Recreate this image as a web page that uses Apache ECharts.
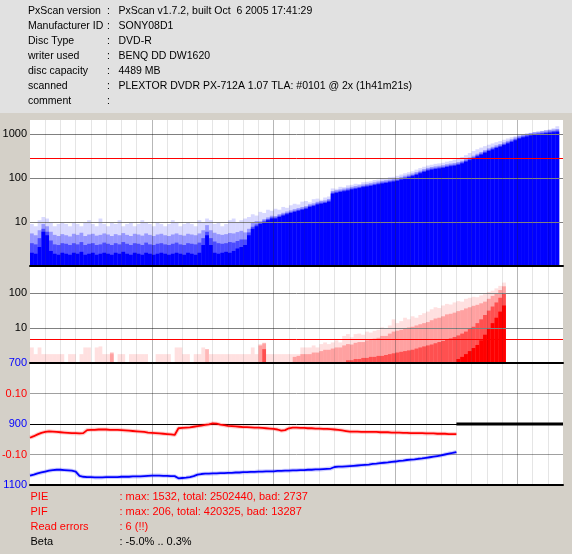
<!DOCTYPE html>
<html>
<head>
<meta charset="utf-8">
<script src="https://cdn.jsdelivr.net/npm/echarts@6/dist/echarts.min.js"></script>
<style>
html,body{margin:0;padding:0;background:#d4d0c8;}
#chart{width:572px;height:554px;}
</style>
</head>
<body>
<div id="chart"></div>
<script>
// ---------------- header / footer texts ----------------
const headerLabels = ["PxScan version", "Manufacturer ID", "Disc Type", "writer used", "disc capacity", "scanned", "comment"];
const headerValues = ["PxScan v1.7.2, built Oct  6 2005 17:41:29", "SONY08D1", "DVD-R", "BENQ DD DW1620", "4489 MB", "PLEXTOR DVDR PX-712A 1.07 TLA: #0101 @ 2x (1h41m21s)", ""];
const footerLabels = ["PIE", "PIF", "Read errors", "Beta"];
const footerValues = [": max: 1532, total: 2502440, bad: 2737", ": max: 206, total: 420325, bad: 13287", ": 6 (!!)", ": -5.0% .. 0.3%"];
const footerColors = ["#ff0000", "#ff0000", "#ff0000", "#000000"];

// ---------------- axes ----------------
const discUnits = 35;          // x range (units of 128 MB)
const sampleStep = 0.25;       // spacing of samples in x units
const pieTickLabels = [10, 100, 1000];
const pifTickLabels = [10, 100];
const jitterTickLabels = [700, 900, 1100];
const betaTickLabels = [-0.1, 0.1];
const pieThreshold = 280;
const pifThreshold = 4.8;

// ---------------- PIE (top panel), 4 density layers ----------------
const pieFaint = [9,8,11,13,12,10,8,9,10,9, 8,10,9,8,10,11,9,8,12,9, 8,10,9,11,8,9,10,8,9,11, 10,9,8,10,9,8,9,11,10,8, 9,10,9,8,11,10,12,11,9,10, 8,9,11,12,10,11,
  12,13,15,14,17,16,19,18,20,19, 22,21,24,26,25,29,30,28,33,34, 32,36,38,58,57,63,62,68,70,74, 73,80,82,84,90,92,97,98,104,106, 112,120,128,135,142,155,168,180,192,200, 210,215,222,235,245,260,275,300,330,370, 410,450,490,530,570,610,650,690,740,790, 840,890,940,990,1030,1070,1110,1140,1180,1230, 1290,1350,1500];
const pieLight = [5.5,5,6.5,9,8,6,5.1,4.8,5.3,5, 4.7,5.4,5.1,5.7,4.8,5.2,5.4,4.9,5.1,5.5, 5.2,4.8,5.3,5,5.6,5.1,4.8,5.4,5.2,4.9, 5.5,5.1,4.8,5.2,5.4,5,4.8,5.2,5.5,5.1, 4.9,5.4,5.2,5,5.5,6.5,8.5,6.5,5.7,5.3, 5.1,5.3,5.6,5.5,5.9,6.3,
  5.8,7,9.5,10.5,10.4,11.6,12.7,13.9,13.7,15, 16.2,17.3,18.4,19.6,20.7,21.9,23,25.3,26.5,28.8, 30,31,33.4,50.6,53,55,57.5,60,63,65.5, 68,71.3,73.6,76,79.4,83,86,88.6,92,95.5, 99,106,113,120,126.5,136,147,159,170,178, 184,190,195.5,205,213,218.5,230,247,270,293, 322,356,391,431,471,512,552,592,644,701, 759,828,908,966,1012,1058,1092,1127,1161,1196, 1230,1265,1300];
const pieMid = [3.3,3.1,4.3,7,6,3.8,3.1,3,3.3,3.2, 3,3.3,3.1,3.5,3,3.2,3.3,3,3.1,3.4, 3.2,3,3.3,3.1,3.5,3.2,3,3.3,3.2,3, 3.4,3.1,3,3.2,3.3,3.1,3,3.2,3.4,3.1, 3,3.3,3.2,3.1,3.4,4.3,6,4.3,3.6,3.3, 3.2,3.3,3.5,3.4,3.7,4,
  4,5.8,7.8,8.8,9.6,10.7,11.7,12.8,12.7,13.9, 14.9,16,17,18,19,20,21.3,23.4,24.4,26.5, 27.6,28.7,30.8,46.6,48.8,51,53,55,58,60, 62.5,65.7,68,70,73,76,79.5,81.6,85,88, 91,97.5,104,110,117,125,136,146,157,164, 170,175,180,189,196,201,212,228,249,270, 297,329,360,398,435,472,509,546,594,647, 700,763,837,890,933,975,1007,1039,1071,1102, 1134,1166,1198];
const pieSolid = [2,1.9,2.7,6,5,2.2,1.9,1.8,2,1.9, 1.8,2,1.9,2.1,1.8,1.9,2,1.8,1.9,2, 1.9,1.8,2,1.9,2.1,1.9,1.8,2,1.9,1.8, 2,1.9,1.8,1.9,2,1.9,1.8,1.9,2,1.9, 1.8,2,1.9,1.8,2,3,5,3,2,1.9, 2,2.1,2,2.2,2.5,2.7,
  3,5,7,8,9,10,11,12,12,13, 14,15,16,17,18,19,20,22,23,25, 26,27,29,44,46,48,50,52,55,57, 59,62,64,66,69,72,75,77,80,83, 86,92,98,104,110,118,128,138,148,155, 160,165,170,178,185,190,200,215,235,255, 280,310,340,375,410,445,480,515,560,610, 660,720,790,840,880,920,950,980,1010,1040, 1070,1100,1130];

// ---------------- PIF (middle panel), 4 density layers ----------------
const pifFaint = [2.8,1.8,2.8,1.8,1.8,1.8,1.8,1.8,1.8,1, 1.8,1.8,1,1.8,2.8,2.8,1,2.8,3,1.8, 1.8,1.8,1,1.8,1.8,1,1.8,1.8,1.8,1.8, 1.8,1,1,1.8,1.8,1.8,1.8,1,2.8,2.8, 1.8,1.8,1,1.8,1.8,2.8,1,1.8,1.8,1.8, 1.8,1.8,1.8,1.8,1.8,1.8,1.8,1.8,2.8,1.8, 3.5,3.5,1.8,1.8,1.8,1.8,1.8,1.8,1.8,
  1.8,1.8,2.8,2.8,2.8,3.2,2.8,3.5,3.9,3.5, 3.9,4.5,3.9,6,6.8,5.5,6.8,7,6.5,8, 7.5,8.4,9,10.6,9.5,12,18,14,16,20, 18,22,20,24,27,30,35,40,38,45, 50,48,55,60,58,70,75,80,78,88, 95,110,120,140,165,205];
const pifLight = [1,1,1,1,1,1,1,1,1,1, 1,1,1,1,1,1,1,1,1,1, 1,2,1,1,1,1,1,1,1,1, 1,1,1,1,1,1,1,1,1,1, 1,1,1,1,1,1,2.5,1,1,1, 1,1,1,1,1,1,1,1,1,1, 3.2,3.8,1,1,1,1,1,1,1,
  1.5,1.6,1.8,1.8,1.8,2,2,2.2,2.4,2.4, 2.6,2.8,2.8,3.2,3.5,3.4,3.8,4,4,4.5, 4.6,5,5.3,6,6,7,8,8.5,9,10, 10.5,11,12,13,14,15,17,19,20,22, 25,26,28,31,33,37,40,44,47,52, 58,70,85,100,125,160];
const pifMid = [1,1,1,1,1,1,1,1,1,1, 1,1,1,1,1,1,1,1,1,1, 1,1,1,1,1,1,1,1,1,1, 1,1,1,1,1,1,1,1,1,1, 1,1,1,1,1,1,1,1,1,1, 1,1,1,1,1,1,1,1,1,1, 1,2.5,1,1,1,1,1,1,1,
  1,1,1,1,1,1,1,1,1,1, 1,1,1,1,1.2,1.2,1.3,1.3,1.4,1.4, 1.5,1.5,1.6,1.6,1.7,1.8,
  1.9,2,2.1,2.2,2.3,2.4,2.6,2.8,3,3.2, 3.4,3.7,4,4.3,4.7,5.1,5.6,6.2,7,8, 9.5,11,14,18,24,32,42,55,75,100];
const pifSolid = [1,1,1,1,1,1,1,1,1,1, 1,1,1,1,1,1,1,1,1,1, 1,1,1,1,1,1,1,1,1,1, 1,1,1,1,1,1,1,1,1,1, 1,1,1,1,1,1,1,1,1,1, 1,1,1,1,1,1,1,1,1,1, 1,1,1,1,1,1,1,1,1,1, 1,1,1,1,1,1,1,1,1,1, 1,1,1,1,1,1,1,1,1,1, 1,1,1,1,1,1,1,1,1,1,
  1,1,1,1,1,1,1,1,1,1, 1,1,1.3,1.5,1.8,2.2,2.7,3.3,4.5,6.5, 10,14,20,30,45];

// ---------------- Beta (red, right scale) and jitter (blue) ----------------
const betaValues = [-0.045,-0.040,-0.034,-0.029,-0.026,-0.024,-0.025,-0.026,-0.027,-0.028,
  -0.029,-0.030,-0.030,-0.031,-0.030,-0.020,-0.019,-0.019,-0.018,-0.018,
  -0.018,-0.019,-0.019,-0.019,-0.020,-0.021,-0.022,-0.023,-0.024,-0.025,
  -0.026,-0.028,-0.029,-0.030,-0.031,-0.032,-0.033,-0.034,-0.036,-0.014,
  -0.013,-0.012,-0.011,-0.009,-0.007,-0.005,-0.003,-0.001,0.002,0.001,
  -0.002,-0.004,-0.006,-0.007,-0.008,-0.009,-0.010,-0.010,-0.011,-0.012,
  -0.012,-0.013,-0.014,-0.015,-0.016,-0.018,-0.022,-0.020,-0.014,-0.012,
  -0.012,-0.013,-0.013,-0.014,-0.014,-0.015,-0.015,-0.016,-0.016,-0.017,
  -0.018,-0.019,-0.021,-0.023,-0.025,-0.025,-0.025,-0.026,-0.026,-0.026,
  -0.026,-0.026,-0.027,-0.027,-0.027,-0.028,-0.028,-0.028,-0.029,-0.029,
  -0.030,-0.030,-0.030,-0.030,-0.031,-0.031,-0.031,-0.032,-0.032,-0.032,
  -0.033,-0.033,-0.033];
const jitterValues = [1069,1066,1062,1059,1056,1053,1051,1050,1050,1051,
  1052,1053,1056,1070,1073,1074,1074,1075,1075,1075,
  1074,1074,1074,1074,1073,1073,1073,1072,1072,1072,
  1071,1070,1069,1069,1069,1070,1070,1071,1071,1078,
  1077,1076,1074,1071,1066,1064,1063,1063,1062,1062,
  1061,1061,1060,1060,1059,1059,1058,1058,1057,1057,
  1056,1056,1055,1055,1055,1054,1054,1053,1053,1052,
  1052,1051,1051,1050,1050,1049,1049,1048,1047,1046,
  1041,1040,1040,1039,1038,1037,1036,1035,1034,1033,
  1031,1030,1028,1027,1026,1024,1023,1021,1020,1018,
  1017,1016,1014,1013,1011,1009,1007,1005,1003,1000,
  997,995,992];
const betaTailPositions = [28, 35];
const betaTailValues = [0, 0];

// ---------------- helpers ----------------
const barPairs = arr => arr.map((v, i) => [i * sampleStep + sampleStep / 2, v]);
const linePairs = arr => arr.map((v, i) => [i * sampleStep, v]);
const FONT = '"Liberation Sans", Arial, sans-serif';

function xPair(grid) {
  return [
    {gridIndex: grid, type: 'value', min: 0, max: discUnits, interval: 1, z: 3,
     axisLabel: {show: false}, axisTick: {show: false},
     axisLine: {show: true, onZero: false, lineStyle: {color: '#000', width: 2}},
     splitLine: {show: true, showMinLine: false, showMaxLine: false, lineStyle: {color: 'rgba(0,0,0,0.10)', width: 1}}},
    {gridIndex: grid, type: 'value', min: 0, max: discUnits, interval: 8, z: 3, position: 'bottom',
     axisLabel: {show: false}, axisTick: {show: false}, axisLine: {show: false},
     splitLine: {show: true, showMinLine: false, showMaxLine: false, lineStyle: {color: 'rgba(0,0,0,0.20)', width: 1}}}
  ];
}

function barSeries(name, arr, xi, yi, color, mark) {
  const s = {
    name: name, type: 'bar', xAxisIndex: xi, yAxisIndex: yi,
    data: barPairs(arr), barGap: '-100%', barCategoryGap: '0%',
    itemStyle: {color: color}, silent: true, animation: false
  };
  if (mark) {
    s.markLine = {silent: true, symbol: ['none', 'none'], animation: false,
      label: {show: false}, lineStyle: {color: '#ff0000', width: 1, type: 'solid'},
      data: [{yAxis: mark}]};
  }
  return s;
}

const graphics = [];
graphics.push({type: 'rect', shape: {x: 0, y: 0, width: 572, height: 113}, style: {fill: '#e1e1e1'}, z: -5});
graphics.push({type: 'rect', shape: {x: 30, y: 120, width: 533, height: 365}, style: {fill: '#ffffff'}, z: -5});
headerLabels.forEach((t, i) => {
  const y = 11.5 + i * 15;
  graphics.push({type: 'text', x: 28, y: y, z: 10, style: {text: t, fill: '#000', font: '10.5px ' + FONT, verticalAlign: 'middle'}});
  graphics.push({type: 'text', x: 107, y: y, z: 10, style: {text: ':', fill: '#000', font: '10.5px ' + FONT, verticalAlign: 'middle'}});
  graphics.push({type: 'text', x: 118.5, y: y, z: 10, style: {text: headerValues[i], fill: '#000', font: '10.5px ' + FONT, verticalAlign: 'middle'}});
});
footerLabels.forEach((t, i) => {
  const y = 497 + i * 15;
  graphics.push({type: 'text', x: 30.5, y: y, z: 10, style: {text: t, fill: footerColors[i], font: '11px ' + FONT, verticalAlign: 'middle'}});
  graphics.push({type: 'text', x: 119.5, y: y, z: 10, style: {text: footerValues[i], fill: footerColors[i], font: '11px ' + FONT, verticalAlign: 'middle'}});
});

const labelBase = {fontSize: 11, fontFamily: FONT, margin: 3};

const option = {
  animation: false,
  backgroundColor: '#d4d0c8',
  graphic: graphics,
  grid: [
    {left: 30, right: 9, top: 120, height: 146, outerBoundsMode: 'none', containLabel: false},
    {left: 30, right: 9, top: 267, height: 96, outerBoundsMode: 'none', containLabel: false},
    {left: 30, right: 9, top: 363, height: 122, outerBoundsMode: 'none', containLabel: false}
  ],
  xAxis: [].concat(xPair(0), xPair(1), xPair(2)),
  yAxis: [
    {gridIndex: 0, type: 'log', logBase: 10, min: 1, max: 2080, z: 3,
     axisLine: {show: false}, axisTick: {show: false},
     axisLabel: Object.assign({}, labelBase, {color: '#000', showMinLabel: false, showMaxLabel: false,
       formatter: v => pieTickLabels.some(t => Math.abs(t - v) < 1e-6 * t) ? String(Math.round(v)) : ''}),
     splitLine: {show: true, showMinLine: false, showMaxLine: false, lineStyle: {color: '#808080', width: 1}}},
    {gridIndex: 1, type: 'log', logBase: 10, min: 1, max: 574, z: 3,
     axisLine: {show: false}, axisTick: {show: false},
     axisLabel: Object.assign({}, labelBase, {color: '#000', showMinLabel: false, showMaxLabel: false,
       formatter: v => pifTickLabels.some(t => Math.abs(t - v) < 1e-6 * t) ? String(Math.round(v)) : ''}),
     splitLine: {show: true, showMinLine: false, showMaxLine: false, lineStyle: {color: '#808080', width: 1}}},
    {gridIndex: 2, type: 'value', min: 700, max: 1100, interval: 100, inverse: true, position: 'left', z: 3,
     axisLine: {show: false}, axisTick: {show: false},
     axisLabel: Object.assign({}, labelBase, {color: '#0000ff',
       formatter: v => jitterTickLabels.indexOf(Math.round(v)) >= 0 ? String(Math.round(v)) : ''}),
     splitLine: {show: true, lineStyle: {color: ['#000000', 'rgba(0,0,0,0)'], width: 1}}},
    {gridIndex: 2, type: 'value', min: -0.2, max: 0.2, interval: 0.1, position: 'left', offset: 0, z: 3,
     axisLine: {show: false}, axisTick: {show: false},
     axisLabel: Object.assign({}, labelBase, {color: '#ff0000',
       formatter: v => betaTickLabels.some(t => Math.abs(t - v) < 1e-6) ? v.toFixed(2) : ''}),
     splitLine: {show: true, lineStyle: {color: ['rgba(0,0,0,0)', '#a0a0a0'], width: 1}}}
  ],
  series: [
    barSeries('PIE max', pieFaint, 0, 0, 'rgba(0,0,255,0.15)'),
    barSeries('PIE high', pieLight, 0, 0, 'rgba(0,0,255,0.30)'),
    barSeries('PIE mid', pieMid, 0, 0, 'rgba(0,0,255,0.50)'),
    barSeries('PIE', pieSolid, 0, 0, '#0000ff', pieThreshold),
    barSeries('PIF max', pifFaint, 2, 1, 'rgba(255,0,0,0.12)'),
    barSeries('PIF high', pifLight, 2, 1, 'rgba(255,0,0,0.28)'),
    barSeries('PIF mid', pifMid, 2, 1, 'rgba(255,0,0,0.50)'),
    barSeries('PIF', pifSolid, 2, 1, '#ff0000', pifThreshold),
    {name: 'jitter halo', type: 'line', xAxisIndex: 4, yAxisIndex: 2, data: linePairs(jitterValues),
     showSymbol: false, symbol: 'none', silent: true, lineStyle: {color: 'rgba(0,0,255,0.2)', width: 4}},
    {name: 'jitter', type: 'line', xAxisIndex: 4, yAxisIndex: 2, data: linePairs(jitterValues),
     showSymbol: false, symbol: 'none', silent: true, lineStyle: {color: '#0000ff', width: 1.8}},
    {name: 'beta halo', type: 'line', xAxisIndex: 4, yAxisIndex: 3, data: linePairs(betaValues),
     showSymbol: false, symbol: 'none', silent: true, lineStyle: {color: 'rgba(255,0,0,0.2)', width: 4}},
    {name: 'beta', type: 'line', xAxisIndex: 4, yAxisIndex: 3, data: linePairs(betaValues),
     showSymbol: false, symbol: 'none', silent: true, lineStyle: {color: '#ff0000', width: 1.8}},
    {name: 'beta end', type: 'line', xAxisIndex: 4, yAxisIndex: 3,
     data: betaTailPositions.map((p, i) => [p, betaTailValues[i]]),
     showSymbol: false, symbol: 'none', silent: true, lineStyle: {color: '#000000', width: 3}, z: 4}
  ]
};

const chart = echarts.init(document.getElementById('chart'), null, {renderer: 'canvas'});
chart.setOption(option);
</script>
</body>
</html>
